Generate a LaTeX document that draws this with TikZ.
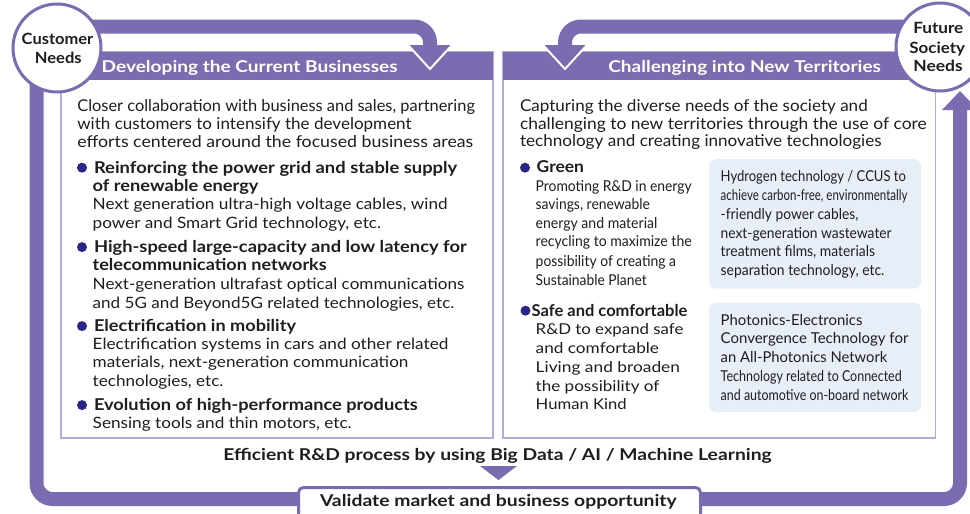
\documentclass[tikz,border=0pt]{standalone}
\usepackage{fontspec}
\usepackage{graphicx}
\setmainfont{Lato}
\definecolor{band}{HTML}{7B6BB0}
\definecolor{lav}{HTML}{B5ABD8}
\definecolor{navy}{HTML}{2B2587}
\definecolor{ice}{HTML}{E8EEF8}
\definecolor{ink}{HTML}{1E1E1E}
\newcommand\fitw[2]{\resizebox{#1pt}{\height}{#2}}
\tikzset{
  t/.style={inner sep=0pt, outer sep=0pt, anchor=base west, text=ink},
  intro/.style={t, font=\fontsize{16.3}{18}\selectfont},
  body/.style={t, font=\fontsize{15.6}{18}\selectfont},
  bold/.style={t, font=\fontsize{16.3}{18}\selectfont\bfseries},
  small/.style={t, font=\fontsize{15}{18}\selectfont},
  head/.style={t, text=white, font=\fontsize{16.3}{18}\selectfont\bfseries},
  ctext/.style={t, anchor=base, font=\fontsize{15.5}{18}\selectfont\bfseries},
  bullet/.style={circle, fill=navy, minimum size=10pt, inner sep=0pt},
  panel/.style={draw=lav, line width=1.3pt, fill=white},
  hbar/.style={fill=band},
  icebox/.style={fill=ice, rounded corners=7pt},
  loop/.style={draw=band, line width=14pt, rounded corners=16pt},
  needs/.style={circle, draw=band, line width=3pt, fill=white, minimum size=88pt, inner sep=0pt},
}
\begin{document}
\begin{tikzpicture}[x=1pt, y=-1pt]
\useasboundingbox (0,0) rectangle (970,514);
\clip (0,0) rectangle (970,514);
\fill[white] (0,0) rectangle (970,514);

% panels
\path[panel] (61,52) rectangle (493,438);
\path[panel] (503,52) rectangle (935.5,438);
\fill[band] (61,52) rectangle (493,80);
\fill[band] (503,52) rectangle (935.5,80);

% outer loop
\coordinate (lstart) at (36.5,80);
\coordinate (lbl) at (36.5,499);
\coordinate (lbr) at (960,499);
\coordinate (lend) at (960,108);
\path[loop] (lstart) -- (lbl) -- (lbr) -- (lend);
\fill[band] (942,110) -- (978,110) -- (960,91) -- cycle;

% top-left arrow
\coordinate (ta1) at (60,26.5);
\coordinate (ta2) at (430,26.5);
\coordinate (ta3) at (430,47);
\path[loop] (ta1) -- (ta2) -- (ta3);
\fill[band] (408,45) -- (452,45) -- (430,69) -- cycle;
\draw[white, line width=2pt, line join=miter] (408,45) -- (430,69) -- (452,45);

% top-right arrow
\coordinate (tb1) at (935,26.5);
\coordinate (tb2) at (565,26.5);
\coordinate (tb3) at (565,47);
\path[loop] (tb1) -- (tb2) -- (tb3);
\fill[band] (543,45) -- (587,45) -- (565,69) -- cycle;
\draw[white, line width=2pt, line join=miter] (543,45) -- (565,69) -- (587,45);

% circles
\node[needs] (cust) at (57,48) {};
\node[needs] (fut) at (940,47) {};
\node[ctext] (c1) at (57.5,45) {\fitw{71.6}{Customer}};
\node[ctext] (c2) at (58.3,63.3) {\fitw{46.7}{Needs}};
\node[ctext] (f1) at (938.3,33.3) {\fitw{50}{Future}};
\node[ctext] (f2) at (937.2,53.3) {\fitw{55.7}{Society}};
\node[ctext] (f3) at (938,71.7) {\fitw{49.3}{Needs}};

% headers
\node[head] (h1) at (101.7,72.7) {\fitw{296}{Developing the Current Businesses}};
\node[head] (h2) at (608.3,72.7) {\fitw{272.7}{Challenging into New Territories}};

% left panel text
\node[intro] (la1) at (77.3,111.7) {\fitw{397.7}{Closer collaboration with business and sales, partnering}};
\node[intro] (la2) at (77.3,129.5) {\fitw{334.3}{with customers to intensify the development}};
\node[intro] (la3) at (77.3,147.3) {\fitw{396}{efforts centered around the focused business areas}};

\node[bullet] (bl1) at (82,167.7) {};
\node[bold] (lb1) at (94,173.3) {\fitw{363.3}{Reinforcing the power grid and stable supply}};
\node[bold] (lb2) at (92.7,191) {\fitw{165.7}{of renewable energy}};
\node[body] (lb3) at (92.7,209.3) {\fitw{355}{Next generation ultra-high voltage cables, wind}};
\node[body] (lb4) at (92.7,228.3) {\fitw{288.3}{power and Smart Grid technology, etc.}};

\node[bullet] (bl2) at (82,247.1) {};
\node[bold] (lc1) at (94,252.7) {\fitw{372.7}{High-speed large-capacity and low latency for}};
\node[bold] (lc2) at (92.7,270) {\fitw{234}{telecommunication networks}};
\node[body] (lc3) at (92.7,289.3) {\fitw{371.7}{Next-generation ultrafast optical communications}};
\node[body] (lc4) at (92.7,308.3) {\fitw{361.7}{and 5G and Beyond5G related technologies, etc.}};

\node[bullet] (bl3) at (82,326.1) {};
\node[bold] (ld1) at (94,331.7) {\fitw{202}{Electrification in mobility}};
\node[body] (ld2) at (92.7,349.3) {\fitw{355.7}{Electrification systems in cars and other related}};
\node[body] (ld3) at (92.7,367.3) {\fitw{315.7}{materials, next-generation communication}};
\node[body] (ld4) at (92.7,386.7) {\fitw{130.7}{technologies, etc.}};

\node[bullet] (bl4) at (82,405.1) {};
\node[bold] (le1) at (94,410.7) {\fitw{323.7}{Evolution of high-performance products}};
\node[body] (le2) at (92.7,428.3) {\fitw{259}{Sensing tools and thin motors, etc.}};

% right panel text
\node[intro] (ra1) at (520,111.7) {\fitw{347.7}{Capturing the diverse needs of the society and}};
\node[intro] (ra2) at (520,129.2) {\fitw{406.7}{challenging to new territories through the use of core}};
\node[intro] (ra3) at (520,146.7) {\fitw{361.7}{technology and creating innovative technologies}};

\node[icebox, minimum width=212pt, minimum height=129.5pt, anchor=north west] (ice1) at (709,159) {};
\node[icebox, minimum width=212pt, minimum height=109pt, anchor=north west] (ice2) at (709,302.7) {};

\node[bullet] (br1) at (525,167.7) {};
\node[bold] (rg0) at (536.7,172.7) {\fitw{47.3}{Green}};
\node[small] (rg1) at (535.7,191) {\fitw{156}{Promoting R\&D in energy}};
\node[small] (rg2) at (535.7,209.3) {\fitw{114.3}{savings, renewable}};
\node[small] (rg3) at (535.7,228.3) {\fitw{121.7}{energy and material}};
\node[small] (rg4) at (535.7,246.7) {\fitw{156}{recycling to maximize the}};
\node[small] (rg5) at (535.7,266) {\fitw{140.3}{possibility of creating a}};
\node[small] (rg6) at (535.7,285) {\fitw{111}{Sustainable Planet}};

\node[small] (ri1) at (720.7,181.7) {\fitw{185.3}{Hydrogen technology / CCUS to}};
\node[small] (ri2) at (720.7,200) {\fitw{186.7}{achieve carbon-free, environmentally}};
\node[small] (ri3) at (720.7,219.3) {\fitw{137.7}{-friendly power cables,}};
\node[small] (ri4) at (720.7,238.3) {\fitw{171}{next-generation wastewater}};
\node[small] (ri5) at (720.7,256.7) {\fitw{154.3}{treatment films, materials}};
\node[small] (ri6) at (720.7,275) {\fitw{163.7}{separation technology, etc.}};

\node[bullet] (br2) at (525.5,310.7) {};
\node[bold] (rs0) at (531.7,316) {\fitw{155.7}{Safe and comfortable}};
\node[small] (rs1) at (535.7,334.3) {\fitw{147.7}{R\&D to expand safe}};
\node[small] (rs2) at (535.7,353.3) {\fitw{123.3}{and comfortable}};
\node[small] (rs3) at (535.7,372) {\fitw{144.3}{Living and broaden}};
\node[small] (rs4) at (535.7,391) {\fitw{123.7}{the possibility of}};
\node[small] (rs5) at (535.7,409.3) {\fitw{91}{Human Kind}};

\node[small] (rj1) at (720.7,325) {\fitw{141.7}{Photonics-Electronics}};
\node[small] (rj2) at (720.7,343.3) {\fitw{187.7}{Convergence Technology for}};
\node[small] (rj3) at (720.7,362.3) {\fitw{166.7}{an All-Photonics Network}};
\node[small] (rj4) at (720.7,381) {\fitw{181}{Technology related to Connected}};
\node[small] (rj5) at (720.7,400) {\fitw{187.7}{and automotive on-board network}};

% bottom
\node[bold] (eff) at (223.3,460) {\fitw{548.3}{Efficient R\&D process by using Big Data / AI / Machine Learning}};
\fill[band] (480,466) -- (517,466) -- (498.5,480) -- cycle;
\node[draw=band, line width=3pt, fill=white, rounded corners=5pt, minimum width=402pt, minimum height=50pt, anchor=north west] (val) at (297,486) {};
\node[bold] (valt) at (320,506.7) {\fitw{356.7}{Validate market and business opportunity}};
\end{tikzpicture}
\end{document}
